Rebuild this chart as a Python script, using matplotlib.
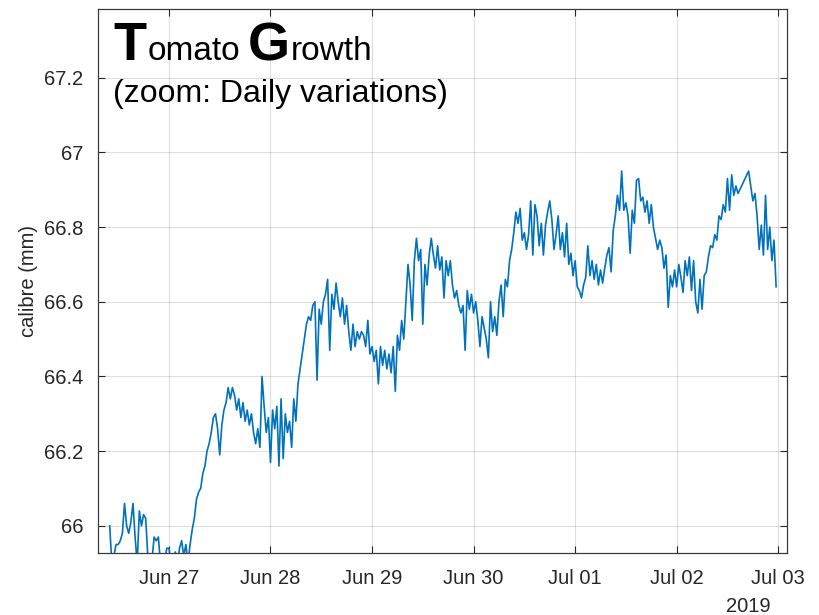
import matplotlib
matplotlib.use("Agg")
import matplotlib.pyplot as plt
import matplotlib.dates as mdates
from matplotlib.ticker import FuncFormatter
import pandas as pd

plt.rcParams["font.family"] = ["Liberation Sans", "DejaVu Sans"]

# Fruit calibre (mm), half-hourly readings; None marks a missing reading
jun26 = [66.00, 65.90, 65.92, 65.95, 65.95, 65.96, 65.98, 66.06, 66.00, 65.98,
         66.01, 66.06, 65.97, 65.90, 66.04, 66.00, 66.03, 66.02, 65.92, 65.90,
         65.91, 65.97, 65.96, 65.97, 65.90, 65.89, 65.91, 65.94]
jun27 = [65.94, 65.90, 65.91, 65.93, 65.90, 65.94, 65.96, 65.92, 65.95, 65.90,
         65.95, 65.99, 66.02, 66.07, 66.09, 66.10, 66.14, 66.16, 66.20, 66.22,
         66.25, 66.29, 66.30, 66.26, 66.19, 66.27, 66.31, 66.33, 66.37, 66.34,
         66.37, 66.35, 66.31, 66.34, 66.29, 66.33, 66.28, 66.31, 66.27, 66.30,
         66.25, 66.22, 66.26, 66.21, 66.40, 66.32, 66.25, 66.29]
jun28 = [66.17, 66.31, 66.26, 66.32, 66.16, 66.34, 66.18, 66.30, 66.25, 66.28,
         66.21, 66.34, 66.28, 66.38, 66.42, 66.46, 66.50, 66.54, 66.56, 66.55,
         66.59, 66.60, 66.39, 66.58, 66.54, 66.60, 66.62, 66.66, 66.47, 66.62,
         66.58, 66.65, 66.60, 66.56, 66.61, 66.54, 66.59, 66.52, 66.47, 66.54,
         66.48, 66.52, 66.50, 66.52, 66.51, 66.48, 66.55, 66.46]
jun29 = [66.48, 66.44, 66.47, 66.38, 66.48, 66.43, 66.47, 66.42, 66.46, 66.41,
         66.48, 66.36, 66.51, 66.47, 66.55, 66.50, 66.60, 66.70, 66.645, 66.55,
         66.71, 66.77, 66.71, 66.74, 66.54, 66.70, 66.645, 66.725, 66.77, 66.725,
         66.69, 66.75, 66.685, 66.72, 66.61, 66.71, 66.67, 66.71, 66.645, 66.61,
         66.63, 66.59, 66.57, 66.59, 66.47, 66.63, 66.58, 66.62]
jun30 = [66.57, 66.60, 66.55, 66.48, 66.56, 66.53, 66.50, 66.45, 66.60, 66.52,
         66.56, 66.51, 66.60, 66.645, 66.56, 66.66, 66.64, 66.71, 66.74, 66.785,
         66.84, 66.81, 66.85, 66.765, 66.785, 66.74, 66.78, 66.87, 66.725, 66.86,
         66.83, 66.75, 66.81, 66.725, 66.805, 66.84, 66.87, 66.82, 66.74, 66.78,
         66.83, 66.74, 66.785, 66.72, 66.81, 66.70, 66.73, 66.67]
jul01 = [66.71, 66.64, 66.63, 66.61, 66.645, 66.665, 66.75, 66.67, 66.71, 66.66,
         66.70, 66.645, 66.685, 66.65, 66.69, 66.725, 66.745, 66.68, 66.79, 66.83,
         66.885, 66.845, 66.95, 66.845, 66.865, 66.83, 66.73, 66.845, 66.81, 66.925,
         66.93, 66.87, 66.88, 66.84, 66.87, 66.81, 66.86, 66.80, 66.77, 66.74,
         66.765, 66.745, 66.69, 66.725, 66.585, 66.67, 66.64, 66.685]
jul02 = [66.64, 66.70, 66.665, 66.625, 66.71, 66.67, 66.72, 66.63, 66.71, 66.60,
         66.57, 66.66, 66.58, 66.67, 66.68, 66.72, 66.75, 66.745, 66.78, 66.765,
         66.83, 66.82, 66.86, 66.84, 66.93, 66.845, 66.94, 66.885, 66.91, 66.89,
         None, None, None, None, 66.95, 66.91, 66.87, 66.89, 66.83, 66.74,
         66.805, 66.725, 66.885, 66.74, 66.80, 66.71, 66.765, 66.64]

first_reading = "2019-06-26 10:00"
y_ticks = [66.0, 66.2, 66.4, 66.6, 66.8, 67.0, 67.2]

values = jun26 + jun27 + jun28 + jun29 + jun30 + jul01 + jul02
times = pd.date_range(first_reading, periods=len(values), freq="30min")
series = pd.Series(values, index=times, dtype=float).dropna()

ink = "#262626"
fig = plt.figure(figsize=(8.19, 6.15), dpi=100)
ax = fig.add_axes([0.1200, 0.1013, 0.8415, 0.8841])

ax.plot(series.index, series.values, color="#0072BD", lw=1.2)

ax.set_xlim(pd.Timestamp("2019-06-26 07:18"), pd.Timestamp("2019-07-03 02:11"))
ax.set_ylim(65.928, 67.384)
ax.xaxis.set_major_locator(mdates.DayLocator())
ax.xaxis.set_major_formatter(mdates.DateFormatter("%b %d"))
ax.set_yticks(y_ticks)
ax.yaxis.set_major_formatter(FuncFormatter(lambda v, p: f"{v:g}"))

ax.grid(True, color=ink, alpha=0.15, lw=0.8)
ax.tick_params(direction="in", top=True, right=True, length=5, width=0.8,
               color=ink, labelcolor=ink, labelsize=14.5)
ax.tick_params(axis="x", pad=12)
ax.tick_params(axis="y", pad=11)
for sp in ax.spines.values():
    sp.set_color("#3a3a3a")
    sp.set_linewidth(0.9)

ax.set_ylabel("calibre (mm)", fontsize=14.5, color=ink, labelpad=4)
ax.text(0.943, -0.081, "2019", transform=ax.transAxes, fontsize=14.5, color=ink,
        ha="center", va="top")

# Title built from pieces: large bold initials, regular remainder
fig.canvas.draw()
renderer = fig.canvas.get_renderer()
x_disp, y_disp = ax.transAxes.transform((0.0213, 0.906))
pieces = [("T", 39, "bold", 0), ("omato", 24, "normal", 2), ("G", 39, "bold", 7),
          ("rowth", 24, "normal", 1)]
for txt, size, weight, gap in pieces:
    x_disp += gap
    t = ax.text(x_disp, y_disp, txt, transform=None, fontsize=size,
                fontweight=weight, color="black", ha="left", va="baseline")
    bb = t.get_window_extent(renderer)
    x_disp = bb.x1

ax.text(0.0213, 0.829, "(zoom: Daily variations)", transform=ax.transAxes,
        fontsize=23, color="black", ha="left", va="baseline")

fig.savefig("out.png", dpi=100)
